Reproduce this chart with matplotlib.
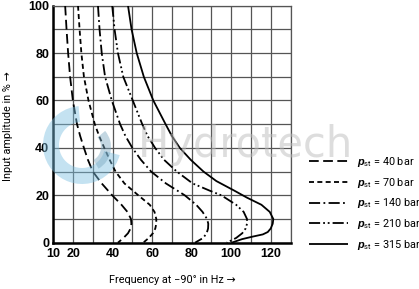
import matplotlib
matplotlib.use('Agg')
import matplotlib.pyplot as plt
import matplotlib.patches as mpatches

# ---------------- data ----------------
y40 = [100, 90, 80, 70, 60, 50, 45, 40, 35, 30, 25, 20, 16, 13, 10, 8, 6, 4, 2, 0]
x40 = [16.0, 16.7, 17.5, 18.5, 19.9, 22.0, 23.6, 25.5, 27.5, 30.0, 34.5, 39.8, 44.5, 47.5, 49.3, 49.5, 49.1, 47.8, 45.5, 42.7]

y70 = [100, 90, 80, 70, 60, 50, 45, 40, 35, 30, 25, 20, 16, 13, 10, 8, 6, 4, 2, 0]
x70 = [22.5, 23.3, 24.2, 25.5, 27.8, 31.0, 33.2, 35.8, 38.5, 41.5, 46.0, 53.0, 58.8, 61.2, 62.1, 62.1, 61.6, 60.4, 58.3, 55.5]

y140 = [100, 90, 80, 70, 60, 50, 45, 40, 35, 30, 25, 20, 16, 13, 10, 8, 6, 4, 2, 0]
x140 = [32.6, 33.4, 34.5, 36.2, 39.6, 43.8, 46.5, 50.0, 54.3, 59.5, 67.0, 76.5, 82.3, 85.5, 87.8, 88.4, 88.3, 87.6, 85.8, 81.7]

y210 = [100, 90, 80, 70, 60, 50, 45, 40, 35, 30, 25, 22, 20, 16, 13, 10, 8, 6, 4, 2, 0]
x210 = [39.8, 41.0, 42.7, 45.4, 50.2, 55.0, 57.7, 61.5, 66.0, 72.5, 80.5, 89.0, 95.0, 102.5, 106.3, 108.0, 108.0, 107.3, 105.6, 102.5, 97.8]

y315 = [100, 90, 80, 70, 60, 50, 45, 40, 35, 30, 26, 22, 19, 16, 13, 10, 8, 6, 4.5, 3.5, 2.5, 1.5, 0]
x315 = [47.8, 49.6, 52.2, 55.8, 60.6, 66.8, 70.0, 74.0, 79.5, 86.0, 92.5, 101.5, 108.0, 115.3, 119.5, 121.3, 121.0, 120.0, 118.5, 116.0, 110.5, 105.5, 100.2]

series_labels = [r'$\mathbf{p}_{\mathrm{st}}$ = 40 bar',
                 r'$\mathbf{p}_{\mathrm{st}}$ = 70 bar',
                 r'$\mathbf{p}_{\mathrm{st}}$ = 140 bar',
                 r'$\mathbf{p}_{\mathrm{st}}$ = 210 bar',
                 r'$\mathbf{p}_{\mathrm{st}}$ = 315 bar']
x_ticks = [10, 20, 40, 60, 80, 100, 120]
y_ticks = [0, 20, 40, 60, 80, 100]
x_label = 'Frequency at \u221290\u00b0 in Hz \u2192'
y_label = 'Input amplitude in % \u2192'

# ---------------- style ----------------
plt.rcParams['font.family'] = ['Roboto', 'DejaVu Sans']
plt.rcParams['lines.scale_dashes'] = False
plt.rcParams['mathtext.fontset'] = 'custom'
plt.rcParams['mathtext.rm'] = 'Roboto'
plt.rcParams['mathtext.it'] = 'Roboto:italic'
plt.rcParams['mathtext.bf'] = 'Liberation Sans:bold:italic'

fig = plt.figure(figsize=(4.19, 2.89), dpi=100)
ax = fig.add_axes([53.3 / 419, 1 - 242.7 / 289, (290.5 - 53.3) / 419, (242.7 - 5.7) / 289])

# watermark
logo = mpatches.Wedge((0.82, 1.44), 0.39, 95, 345, width=0.16,
                      transform=fig.dpi_scale_trans, color='#7cc0e2', alpha=0.45,
                      lw=0, zorder=10)
fig.add_artist(logo)
logo2 = mpatches.Wedge((0.86, 1.42), 0.25, 300, 40, width=0.10,
                       transform=fig.dpi_scale_trans, color='#7aa8c0', alpha=0.45,
                       lw=0, zorder=10)
fig.add_artist(logo2)
fig.text(138 / 419, 1 - 157 / 289, 'Hydrotech', fontsize=30, color='#bdbdbd', alpha=0.5,
         va='baseline', ha='left', family=['DejaVu Sans'], zorder=10)

lw = 1.3
styles = [
    dict(dashes=(7, 3.2)),
    dict(dashes=(3.6, 2.4)),
    dict(dashes=(8, 2.4, 1.3, 2.4)),
    dict(dashes=(8, 2.2, 1.3, 2.0, 1.3, 2.2)),
    dict(linestyle='-'),
]
data = [(x40, y40), (x70, y70), (x140, y140), (x210, y210), (x315, y315)]
for (xs, ys), st, lab in zip(data, styles, series_labels):
    ax.plot(xs, ys, color='black', lw=lw, label=lab, zorder=3, solid_capstyle='butt',
            dash_capstyle='butt', **st)

ax.set_xlim(10, 130)
ax.set_ylim(0, 100)
ax.set_xticks(x_ticks)
ax.set_yticks(y_ticks)
ax.set_xticks(range(10, 131, 10), minor=True)
ax.set_yticks(range(0, 101, 10), minor=True)
ax.grid(which='both', color='#555555', lw=0.9, zorder=1)
ax.set_axisbelow(True)
ax.tick_params(which='both', length=0)
ax.tick_params(axis='x', pad=4)
ax.tick_params(axis='y', pad=3)
for lbl in ax.get_xticklabels() + ax.get_yticklabels():
    lbl.set_fontweight('bold')
    lbl.set_fontsize(9)
    lbl.set_family(['Liberation Sans', 'DejaVu Sans'])
for s in ['left', 'bottom']:
    ax.spines[s].set_linewidth(1.8)
    ax.spines[s].set_color('black')
for s in ['top', 'right']:
    ax.spines[s].set_linewidth(0.9)
    ax.spines[s].set_color('#555555')

ax.set_xlabel(x_label, fontsize=7.8)
ax.xaxis.set_label_coords(0.5, -0.135)
ax.set_ylabel(y_label, fontsize=7.8)
ax.yaxis.set_label_coords(-0.168, 0.49)

leg = ax.legend(loc='center left', bbox_to_anchor=(309 / 419, 1 - 203.5 / 289),
                bbox_transform=fig.transFigure, frameon=False, fontsize=7.8,
                handlelength=3.6, handletextpad=0.8, labelspacing=0.62,
                borderpad=0, borderaxespad=0)

fig.savefig('out.png', dpi=100)
